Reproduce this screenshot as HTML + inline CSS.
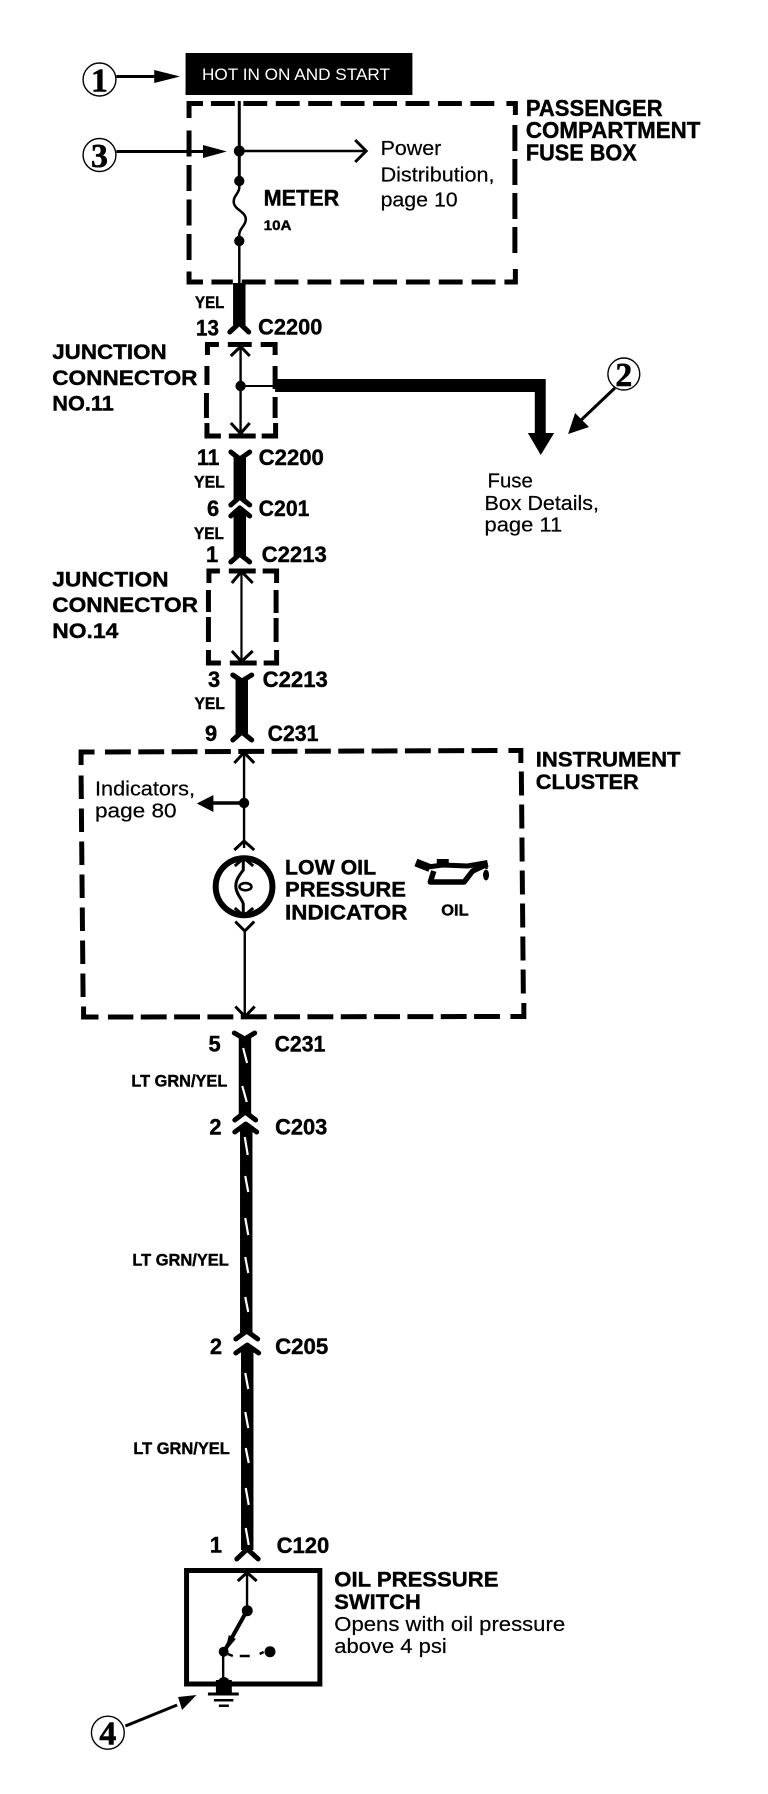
<!DOCTYPE html>
<html lang="en">
<head>
<meta charset="utf-8">
<title>Oil pressure indicator circuit</title>
<style>
html,body{margin:0;padding:0;background:#fff;width:768px;height:1794px;overflow:hidden}
svg{display:block}
text{font-family:"Liberation Sans",Arial,sans-serif;fill:#000;stroke:#000;stroke-width:.2}
.b{font-weight:700;stroke-width:.4}
.s{font-family:"Liberation Serif",serif;font-weight:700;stroke-width:.6}
.d{fill:none;stroke:#000;stroke-width:5}
.w{fill:none;stroke:#000}
.f{fill:none;stroke:#000;stroke-width:5;stroke-linecap:round;stroke-linejoin:round}
.o{fill:none;stroke:#000;stroke-width:3}
.st{stroke:#fff;stroke-width:2.2;fill:none}
</style>
</head>
<body>
<svg xmlns="http://www.w3.org/2000/svg" width="768" height="1794" viewBox="0 0 771.9 1794" preserveAspectRatio="none">
<rect width="772" height="1794" fill="#fff"/>

<!-- Top power box -->
<rect x="186.5" y="53" width="228" height="42" fill="#000"/>
<text x="203" y="80" font-size="17" textLength="189" lengthAdjust="spacingAndGlyphs" style="fill:#fff;stroke:none">HOT IN ON AND START</text>
<circle cx="100" cy="79.5" r="16.5" fill="#fff" stroke="#000" stroke-width="1.4"/>
<text class="s" x="100" y="91.5" font-size="34" text-anchor="middle">1</text>
<path d="M117 76.5H157" class="w" stroke-width="3"/>
<path d="M155 70L181 76.5L155 83Z"/>

<!-- Passenger fuse box -->
<path class="d" d="M190 118V103.5H204"/>
<path class="d" d="M212 103.5H503" stroke-dasharray="24 8.6"/>
<path class="d" d="M509 103.5H518V115"/>
<path class="d" d="M517.5 125V260" stroke-dasharray="26 8"/>
<path class="d" d="M518 269V282H507"/>
<path class="d" d="M498 282H212.5" stroke-dasharray="24 9"/>
<path class="d" d="M204 282H190V271.5"/>
<path class="d" d="M190 260V127.5" stroke-dasharray="26 8.5"/>

<path class="w" stroke-width="3" d="M240.5 101V181"/>
<path class="w" stroke-width="2.5" d="M240.5 181V188C240 194 234 196 235 203C236 210 248 212 247 220C246.5 226 241 228 240.5 234V283"/>
<circle cx="240.5" cy="151" r="5.5"/><circle cx="240.5" cy="181" r="5.2"/><circle cx="240.5" cy="241" r="5.2"/>
<circle cx="100" cy="155" r="16.5" fill="#fff" stroke="#000" stroke-width="1.4"/>
<text class="s" x="100" y="167" font-size="34" text-anchor="middle">3</text>
<path class="w" stroke-width="3" d="M117 151.5H206"/>
<path d="M204 145L228 151.5L204 158Z"/>
<path class="w" stroke-width="2.6" d="M240 151H367"/>
<path class="o" d="M357 140L368 151L357 162"/>

<text class="b" x="265" y="205.5" font-size="22" textLength="76" lengthAdjust="spacingAndGlyphs">METER</text>
<text class="b" x="265" y="230" font-size="14" textLength="28" lengthAdjust="spacingAndGlyphs">10A</text>
<text x="382.5" y="155" font-size="20" textLength="61" lengthAdjust="spacingAndGlyphs">Power</text>
<text x="382.5" y="181.5" font-size="20" textLength="114.5" lengthAdjust="spacingAndGlyphs">Distribution,</text>
<text x="382.5" y="206.5" font-size="20" textLength="77.5" lengthAdjust="spacingAndGlyphs">page 10</text>
<text class="b" x="528.5" y="116" font-size="23" textLength="137.5" lengthAdjust="spacingAndGlyphs">PASSENGER</text>
<text class="b" x="528.5" y="138" font-size="23" textLength="175.5" lengthAdjust="spacingAndGlyphs">COMPARTMENT</text>
<text class="b" x="528.5" y="160.5" font-size="23" textLength="111.5" lengthAdjust="spacingAndGlyphs">FUSE BOX</text>

<!-- Wire to C2200 -->
<path class="w" stroke-width="12.5" d="M240.5 283V325"/>
<path class="f" d="M231 332L240.5 323L250 332"/>
<text class="b" x="196" y="308" font-size="17" textLength="29.5" lengthAdjust="spacingAndGlyphs">YEL</text>
<text class="b" x="197" y="335.5" font-size="22" textLength="23" lengthAdjust="spacingAndGlyphs">13</text>
<text class="b" x="259.5" y="334.5" font-size="22" textLength="64.5" lengthAdjust="spacingAndGlyphs">C2200</text>

<!-- Junction connector 11 -->
<path class="d" d="M208.5 355V344.5H220"/>
<path class="d" d="M229 344.5H253"/>
<path class="d" d="M262 344.5H276.5V355"/>
<path class="d" d="M208 366V385M207.5 393V418"/>
<path class="d" d="M276.5 366V389M276.5 397V418"/>
<path class="d" d="M208 423V436H222"/>
<path class="d" d="M230 436H257"/>
<path class="d" d="M263 436H277V423"/>
<path class="w" stroke-width="2.4" d="M241.8 346V434"/>
<path class="o" d="M232 356L241.8 346.5L251 356"/>
<path class="o" d="M232 423L241.8 433.5L251 423"/>
<circle cx="241.8" cy="386" r="5.2"/>
<path class="w" stroke-width="2" d="M241.8 386H277"/>
<path d="M276.5 379H548.5V433H537.5V392H276.5Z"/>
<path d="M530.5 433H557L543.5 455Z"/>
<text class="b" x="52.5" y="359" font-size="21.5" textLength="115" lengthAdjust="spacingAndGlyphs">JUNCTION</text>
<text class="b" x="52.5" y="385" font-size="21.5" textLength="146" lengthAdjust="spacingAndGlyphs">CONNECTOR</text>
<text class="b" x="52.5" y="410.5" font-size="21.5" textLength="62" lengthAdjust="spacingAndGlyphs">NO.11</text>
<circle cx="627" cy="374" r="16" fill="#fff" stroke="#000" stroke-width="1.4"/>
<text class="s" x="627" y="386" font-size="34" text-anchor="middle">2</text>
<path class="w" stroke-width="3" d="M618 388L582 422"/>
<path d="M571 434L578 413L592 427Z"/>
<text x="490" y="487.5" font-size="20" textLength="45.5" lengthAdjust="spacingAndGlyphs">Fuse</text>
<text x="487" y="510" font-size="20" textLength="115" lengthAdjust="spacingAndGlyphs">Box Details,</text>
<text x="487" y="531.5" font-size="20" textLength="78" lengthAdjust="spacingAndGlyphs">page 11</text>

<!-- C2200 to C2213 -->
<path class="f" d="M232 452L241 459L251 452"/>
<path class="w" stroke-width="12.5" d="M241 456V499"/>
<path class="f" d="M232 505L241 497L251 505"/>
<path class="f" d="M232 516L241 508L251 516"/>
<path class="w" stroke-width="12.5" d="M241 510V556"/>
<path class="f" d="M232 562L241 554L251 562"/>
<text class="b" x="198" y="465" font-size="22" textLength="22.5" lengthAdjust="spacingAndGlyphs">11</text>
<text class="b" x="260" y="465" font-size="22" textLength="65.5" lengthAdjust="spacingAndGlyphs">C2200</text>
<text class="b" x="195" y="487.5" font-size="17" textLength="31" lengthAdjust="spacingAndGlyphs">YEL</text>
<text class="b" x="208" y="516" font-size="22">6</text>
<text class="b" x="260" y="516" font-size="22" textLength="51" lengthAdjust="spacingAndGlyphs">C201</text>
<text class="b" x="195" y="539" font-size="17" textLength="30" lengthAdjust="spacingAndGlyphs">YEL</text>
<text class="b" x="207" y="562" font-size="22">1</text>
<text class="b" x="263" y="562" font-size="22" textLength="65.5" lengthAdjust="spacingAndGlyphs">C2213</text>

<!-- Junction connector 14 -->
<path class="d" d="M210 583V571H221"/>
<path class="d" d="M230 571H257"/>
<path class="d" d="M264 571H278V583"/>
<path class="d" d="M209.5 590V612M209.5 617V642"/>
<path class="d" d="M277.5 590V613M277.5 618V642"/>
<path class="d" d="M209.5 650V663H222"/>
<path class="d" d="M231 663H258"/>
<path class="d" d="M265 663H278V650"/>
<path class="w" stroke-width="2.2" d="M242.7 571V662"/>
<path class="o" d="M233 583L242.7 571.5L254 583"/>
<path class="o" d="M233 651L242.7 661.5L254 651"/>
<text class="b" x="52.5" y="586.5" font-size="21.5" textLength="117" lengthAdjust="spacingAndGlyphs">JUNCTION</text>
<text class="b" x="52.5" y="612" font-size="21.5" textLength="146.5" lengthAdjust="spacingAndGlyphs">CONNECTOR</text>
<text class="b" x="52.5" y="638" font-size="21.5" textLength="66.5" lengthAdjust="spacingAndGlyphs">NO.14</text>

<!-- C2213 to C231 -->
<path class="f" d="M234 675L243 681L253 675"/>
<path class="w" stroke-width="12.5" d="M243 678V735"/>
<path class="f" d="M234 740L243 732L253 740"/>
<text class="b" x="209" y="687" font-size="22">3</text>
<text class="b" x="264" y="687" font-size="22" textLength="65.5" lengthAdjust="spacingAndGlyphs">C2213</text>
<text class="b" x="195.5" y="709" font-size="17" textLength="30.5" lengthAdjust="spacingAndGlyphs">YEL</text>
<text class="b" x="206" y="741" font-size="22">9</text>
<text class="b" x="269" y="741" font-size="22" textLength="51" lengthAdjust="spacingAndGlyphs">C231</text>

<!-- Instrument cluster -->
<path class="d" d="M81.5 765V752H95"/>
<path class="d" d="M105.5 752L500 750.5" stroke-dasharray="26 7.5"/>
<path class="d" d="M511 750.5H523.5V763"/>
<path class="d" d="M524 771.5L526 995" stroke-dasharray="24 9"/>
<path class="d" d="M526.5 1003V1016.5H513"/>
<path class="d" d="M502.5 1016.5L108.5 1017" stroke-dasharray="26 7.5"/>
<path class="d" d="M99 1017H84V1006.5"/>
<path class="d" d="M83.5 997L81.5 775" stroke-dasharray="23.5 9.5"/>

<path class="w" stroke-width="2.4" d="M245.3 752V848"/>
<path class="o" d="M235.5 763L245.3 752.5L255.5 763"/>
<circle cx="245.3" cy="803" r="5.2"/>
<path class="w" stroke-width="3.5" d="M245 803H212"/>
<path d="M197.8 803.5L214.5 795V812Z"/>
<path class="o" d="M235.5 850L245.3 841L255.5 850"/>
<circle cx="245.3" cy="886.7" r="28.5" fill="#fff" stroke="#000" stroke-width="6"/>
<path class="o" d="M236 866L245 858L254.5 866"/>
<path class="o" d="M236 908L245 916L254.5 908"/>
<path class="w" stroke-width="3" d="M244.5 860V870C240 876 237 880 237 886C237 894 244 900 244.5 904V915"/>
<ellipse cx="246.7" cy="886.7" rx="6" ry="3.6" fill="none" stroke="#000" stroke-width="2.6"/>
<path class="o" d="M236.5 921.5L246 931L255.5 921.5"/>
<path class="w" stroke-width="2.4" d="M246 931V1017"/>
<path class="o" d="M236.5 1006.5L246.3 1016.5L256 1006.5"/>

<text class="b" x="286.5" y="874.5" font-size="21" textLength="91.5" lengthAdjust="spacingAndGlyphs">LOW OIL</text>
<text class="b" x="286.5" y="896.5" font-size="21" textLength="121.5" lengthAdjust="spacingAndGlyphs">PRESSURE</text>
<text class="b" x="286.5" y="919.5" font-size="21" textLength="123" lengthAdjust="spacingAndGlyphs">INDICATOR</text>
<text class="b" x="443.5" y="915.5" font-size="16" textLength="27.5" lengthAdjust="spacingAndGlyphs">OIL</text>
<!-- oil can -->
<path class="w" stroke-width="8" d="M418 862.5L432 868"/>
<rect x="439" y="859" width="12" height="6"/>
<path class="w" stroke-width="5" d="M430 867L445 865L470 866L490 862.5"/>
<path class="w" stroke-width="5.5" stroke-linejoin="round" d="M436 871L432.5 882H466.5L475 871L490 864"/>
<path class="w" stroke-width="2.4" d="M489 863V869"/>
<ellipse cx="488.5" cy="875" rx="3" ry="5.5"/>

<text class="b" x="538.5" y="766.5" font-size="21.5" textLength="145.5" lengthAdjust="spacingAndGlyphs">INSTRUMENT</text>
<text class="b" x="538.5" y="789" font-size="21.5" textLength="103.5" lengthAdjust="spacingAndGlyphs">CLUSTER</text>
<text x="95.5" y="795.5" font-size="20" textLength="100.5" lengthAdjust="spacingAndGlyphs">Indicators,</text>
<text x="95.5" y="817.5" font-size="20" textLength="82" lengthAdjust="spacingAndGlyphs">page 80</text>

<!-- Striped wires -->
<path class="f" d="M235.5 1033L246 1039L256 1033"/>
<path class="w" stroke-width="12.5" d="M246.2 1036V1114"/>
<path class="f" d="M236 1120L246.5 1112L257 1120"/>
<path class="f" d="M236 1132L247 1124L258 1132"/>
<path class="w" stroke-width="12.5" d="M247.5 1127V1333"/>
<path class="f" d="M237 1339L248 1331L259 1339"/>
<path class="f" d="M237 1353L248.5 1345L260 1353"/>
<path class="w" stroke-width="12.5" d="M248.5 1347V1550"/>
<path class="f" d="M238 1559L248.5 1549L259.5 1559"/>
<path class="st" d="M244.4 1048L248.3 1063M243.5 1086L248 1102M246 1137L249 1155M246.5 1176L249.5 1192M246.5 1218L249.5 1235M246.5 1257L249.5 1273M246.5 1297L249.5 1312M246.5 1373L249.5 1389M246.5 1412L249.5 1428M247 1448L250 1463M247 1488L250 1505M247 1528L250 1545"/>

<text class="b" x="209.5" y="1051.5" font-size="22">5</text>
<text class="b" x="276" y="1051.5" font-size="22" textLength="51" lengthAdjust="spacingAndGlyphs">C231</text>
<text class="b" x="132" y="1086.5" font-size="17" textLength="96.5" lengthAdjust="spacingAndGlyphs">LT GRN/YEL</text>
<text class="b" x="210.5" y="1134.5" font-size="22">2</text>
<text class="b" x="276.5" y="1134.5" font-size="22" textLength="52.5" lengthAdjust="spacingAndGlyphs">C203</text>
<text class="b" x="133" y="1265.5" font-size="17" textLength="97" lengthAdjust="spacingAndGlyphs">LT GRN/YEL</text>
<text class="b" x="211" y="1354" font-size="22">2</text>
<text class="b" x="276.5" y="1354" font-size="22" textLength="53.5" lengthAdjust="spacingAndGlyphs">C205</text>
<text class="b" x="134" y="1454" font-size="17" textLength="97" lengthAdjust="spacingAndGlyphs">LT GRN/YEL</text>
<text class="b" x="211" y="1552.5" font-size="22">1</text>
<text class="b" x="278" y="1553" font-size="22" textLength="53" lengthAdjust="spacingAndGlyphs">C120</text>

<!-- Oil pressure switch -->
<rect x="187.5" y="1570.5" width="134" height="113.5" class="d"/>
<path class="w" stroke-width="2.4" d="M248.3 1573V1611"/>
<path class="o" d="M239 1581L248.3 1572.5L258 1581"/>
<circle cx="248.5" cy="1610.7" r="5.5"/>
<path class="w" stroke-width="4" d="M248 1611L225 1652"/>
<path d="M226 1652L230 1635L237 1639Z"/>
<circle cx="224.8" cy="1651.7" r="5"/>
<path class="w" stroke-width="2.4" d="M224.3 1652V1682"/>
<path class="w" stroke-width="2.5" d="M229 1654L234 1656M241 1656H251M261 1654L265 1652"/>
<circle cx="271.4" cy="1651.7" r="5.5"/>
<circle cx="225" cy="1683" r="6"/>
<rect x="217" y="1680" width="16" height="14"/>
<rect x="209" y="1692.5" width="31" height="3"/>
<rect x="215" y="1699" width="19.5" height="2.5"/>
<rect x="220" y="1704.5" width="10" height="2.5"/>
<text class="b" x="336" y="1586.5" font-size="21.5" textLength="165" lengthAdjust="spacingAndGlyphs">OIL PRESSURE</text>
<text class="b" x="336" y="1609" font-size="21.5" textLength="87" lengthAdjust="spacingAndGlyphs">SWITCH</text>
<text x="336" y="1631" font-size="20" textLength="232" lengthAdjust="spacingAndGlyphs">Opens with oil pressure</text>
<text x="336" y="1653" font-size="20" textLength="113" lengthAdjust="spacingAndGlyphs">above 4 psi</text>
<circle cx="108.4" cy="1732.7" r="16.5" fill="#fff" stroke="#000" stroke-width="1.4"/>
<text class="s" x="108.4" y="1744.5" font-size="34" text-anchor="middle">4</text>
<path class="w" stroke-width="3" d="M126 1726L178 1705"/>
<path d="M197.5 1695L179 1697L183 1710Z"/>
</svg>
</body>
</html>
